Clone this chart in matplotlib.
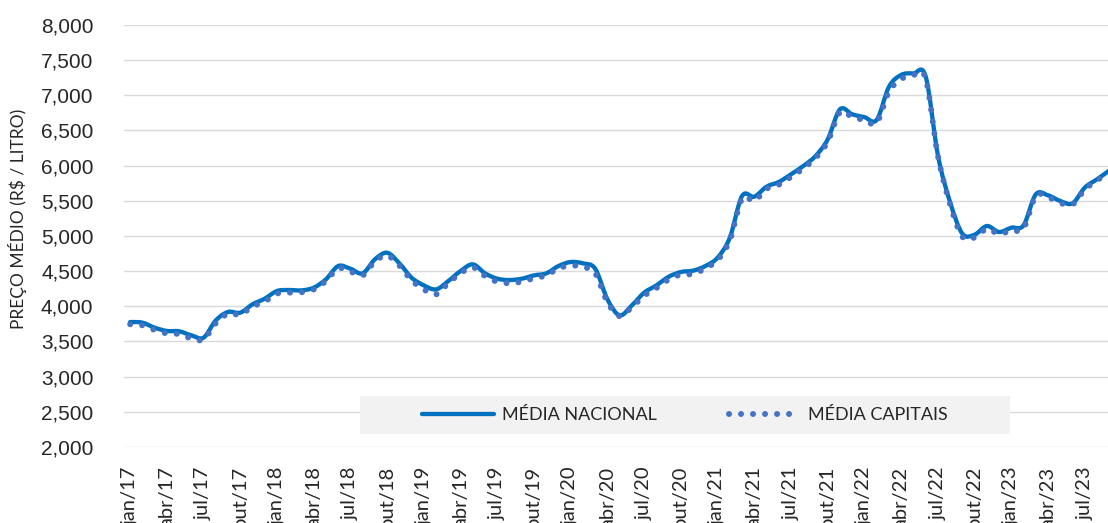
import numpy as np
import matplotlib
matplotlib.use("Agg")
import matplotlib.pyplot as plt
from matplotlib.path import Path
from matplotlib.patches import PathPatch, Rectangle
from matplotlib.lines import Line2D
from matplotlib.ticker import FuncFormatter

# monthly average price, jan/17 .. set/23
month_abbr = ["jan", "fev", "mar", "abr", "mai", "jun",
              "jul", "ago", "set", "out", "nov", "dez"]
years = [17, 18, 19, 20, 21, 22, 23]
n_months = 81
labels = [f"{month_abbr[i % 12]}/{years[i // 12]}" for i in range(n_months)]

media_nacional = [
    3777, 3768, 3697, 3650, 3645, 3588, 3555, 3800, 3920, 3910, 4028, 4109,
    4218, 4232, 4227, 4265, 4384, 4573, 4535, 4469, 4668, 4762, 4611, 4407,
    4298, 4241, 4360, 4502, 4597, 4469, 4393, 4374, 4393, 4440, 4469, 4573,
    4630, 4611, 4535, 4099, 3872, 4014, 4194, 4298, 4420, 4488, 4507, 4573,
    4692, 4976, 5569, 5559, 5701, 5768, 5877, 5995, 6137, 6374, 6801, 6730,
    6690, 6650, 7120, 7290, 7310, 7270, 6150, 5480, 5033, 5019, 5142, 5057,
    5118, 5152, 5592, 5578, 5498, 5464, 5687, 5806, 5930,
]
media_capitais = [
    3745, 3730, 3665, 3615, 3605, 3545, 3530, 3760, 3895, 3885, 3995, 4070,
    4180, 4195, 4200, 4240, 4360, 4540, 4495, 4440, 4640, 4720, 4580, 4370,
    4240, 4170, 4330, 4470, 4555, 4430, 4350, 4330, 4350, 4400, 4440, 4540,
    4580, 4560, 4470, 4060, 3860, 3990, 4150, 4260, 4380, 4450, 4460, 4540,
    4660, 4940, 5530, 5500, 5670, 5730, 5840, 5960, 6110, 6340, 6760, 6690,
    6650, 6610, 7050, 7230, 7290, 7240, 6140, 5450, 4990, 4980, 5100, 5030,
    5080, 5110, 5570, 5550, 5470, 5450, 5660, 5790, 5910,
]


def smooth_path(xs, ys):
    # Excel-style smoothed line as cubic Bezier segments
    pts = np.column_stack([xs, ys]).astype(float)
    n = len(pts)
    verts = [pts[0]]
    codes = [Path.MOVETO]
    for i in range(n - 1):
        p0 = pts[i - 1] if i > 0 else pts[i]
        p1 = pts[i]
        p2 = pts[i + 1]
        p3 = pts[i + 2] if i + 2 < n else pts[i + 1]
        c1 = p1 + (p2 - p0) / 6.0
        c2 = p2 - (p3 - p1) / 6.0
        verts += [c1, c2, p2]
        codes += [Path.CURVE4] * 3
    return Path(verts, codes)


fig = plt.figure(figsize=(11.08, 5.23), dpi=100)
ax = fig.add_axes([124 / 1108, 76 / 523, 984 / 1108, 422 / 523])

x = np.arange(n_months)

nac = PathPatch(smooth_path(x, media_nacional), fill=False,
                edgecolor="#0070C0", lw=3.1, zorder=4)
nac.set_capstyle("round")
nac.set_joinstyle("round")
ax.add_patch(nac)

cap = PathPatch(smooth_path(x, media_capitais), fill=False,
                edgecolor="#4472C4", lw=4.3, linestyle=(0, (0.01, 2.0)),
                zorder=5)
cap.set_capstyle("round")
ax.add_patch(cap)

ax.set_xlim(-0.5, 79.9)
ax.set_ylim(2000, 8000)
ax.set_yticks(np.arange(2000, 8001, 500))
ax.yaxis.set_major_formatter(
    FuncFormatter(lambda v, p: f"{int(v) // 1000},{int(v) % 1000:03d}"))
ax.set_xticks(x[::3])
ax.set_xticklabels(labels[::3], rotation=90, fontsize=14.5, family="Lato",
                   color="#262626")
ax.tick_params(axis="y", length=0, pad=22, labelsize=15, colors="#262626")
ax.tick_params(axis="x", length=0, pad=14)
for lab in ax.get_yticklabels():
    lab.set_family("Liberation Sans")

ax.grid(axis="y", color="#D9D9D9", lw=1.0, zorder=0)
ax.set_axisbelow(True)
for s in ax.spines.values():
    s.set_visible(False)

fig.text(18 / 1108, 1 - 219 / 523, "PREÇO MÉDIO (R$ / LITRO)", rotation=90,
         ha="center", va="center", fontsize=12.5, family="Lato",
         color="#262626")

# legend box
ax.add_patch(Rectangle((236 / 984, 13 / 422), 650 / 984, 38 / 422,
                       transform=ax.transAxes, facecolor="#F2F2F2",
                       edgecolor="none", zorder=2))
handles = [
    Line2D([], [], color="#0070C0", lw=3.1, solid_capstyle="round"),
    Line2D([], [], color="#4472C4", lw=4.3, linestyle=(0, (0.01, 2.0)),
           dash_capstyle="round"),
]
leg = ax.legend(handles, ["MÉDIA NACIONAL", "MÉDIA CAPITAIS"], ncol=2,
                loc="center", bbox_to_anchor=(561 / 984, 32 / 422),
                frameon=False, handlelength=4.0, handletextpad=0.4,
                columnspacing=4.0, prop={"family": "Lato", "size": 13})
for t in leg.get_texts():
    t.set_color("#262626")
leg.set_zorder(6)

fig.savefig("out.png", dpi=100)
